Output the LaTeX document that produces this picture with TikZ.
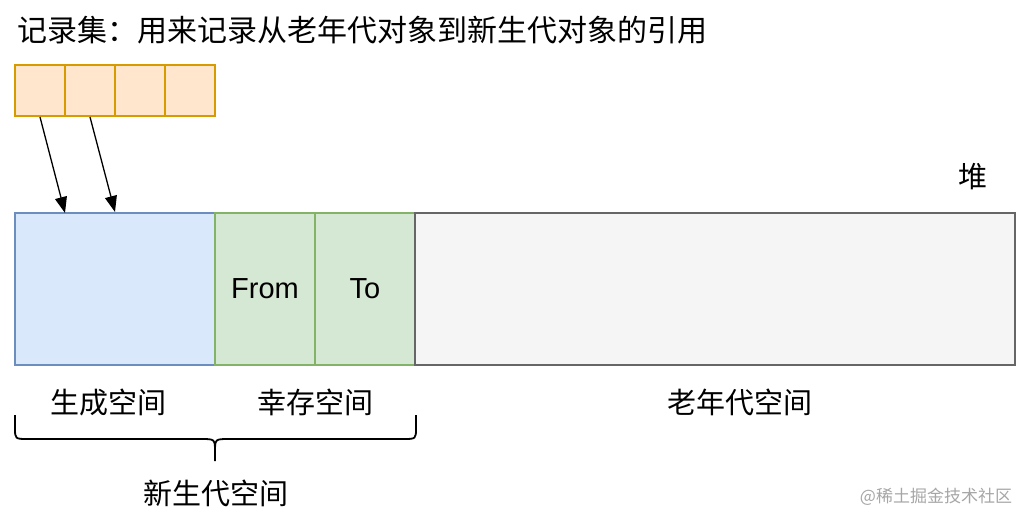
\documentclass[tikz,border=0pt]{standalone}
\usepackage{fontspec}
\setmainfont{Liberation Sans}
\newfontfamily\cjk{Noto Sans CJK SC}
\usetikzlibrary{positioning,arrows.meta}
\definecolor{cellfill}{HTML}{FFE6CC}
\definecolor{cellline}{HTML}{D79B00}
\definecolor{edenfill}{HTML}{DAE8FC}
\definecolor{edenline}{HTML}{6C8EBF}
\definecolor{survfill}{HTML}{D5E8D4}
\definecolor{survline}{HTML}{82B366}
\definecolor{oldfill}{HTML}{F5F5F5}
\definecolor{oldline}{HTML}{666666}

\begin{document}
\begin{tikzpicture}[x=1pt,y=-1pt,node distance=50pt,on grid,
    cell/.style={draw=cellline,fill=cellfill,line width=2pt,minimum width=50pt,minimum height=51pt,inner sep=0pt},
    region/.style={line width=2pt,minimum height=152pt,inner sep=0pt,font=\fontsize{29}{34}\selectfont},
    label/.style={font=\cjk\fontsize{29}{34}\selectfont,inner sep=0pt},
    ref/.style={-{Triangle[length=16pt,width=12pt]},line width=1.3pt}]
    \useasboundingbox (0,0) rectangle (1024,516);
    \node[label,anchor=west,font=\cjk\fontsize{30}{34}\selectfont] (title) at (17,30) {记录集：用来记录从老年代对象到新生代对象的引用};
    % remembered set
    \node[cell] (c_1) at (40,90.5) {};
    \node[cell] (c_2) [right=of c_1] {};
    \node[cell] (c_3) [right=of c_2] {};
    \node[cell] (c_4) [right=of c_3] {};
    % heap
    \node[label] (heap) at (973,177) {堆};
    \node[region,draw=edenline,fill=edenfill,minimum width=200pt] (eden) at (115,289) {};
    \node[region,draw=survline,fill=survfill,minimum width=100pt] (from) [right=150pt of eden] {From};
    \node[region,draw=survline,fill=survfill,minimum width=100pt] (to)   [right=100pt of from] {To};
    \node[region,draw=oldline,fill=oldfill,minimum width=600pt]  (old)  [right=350pt of to] {};
    \coordinate (hit_1) at (65,213);
    \path[ref]
    (c_1.south) edge (hit_1)
    (c_2.south) edge (eden.north);
    % labels
    \node[label] (eden_l) at (108,402) {生成空间};
    \node[label] (surv_l) at (315,402) {幸存空间};
    \node[label] (old_l)  at (740,402) {老年代空间};
    % brace
    \draw[line width=1.8pt] (15,415) -- (15,428) .. controls (15,439) .. (28,439) -- (201,439)
      .. controls (215,439) .. (215,452) -- (215,461);
    \draw[line width=1.8pt] (416,415) -- (416,428) .. controls (416,439) .. (403,439) -- (229,439)
      .. controls (215,439) .. (215,452);
    \node[label] (young_l) at (216,493) {新生代空间};
    \node[font=\cjk\fontsize{17}{20}\selectfont,text=black!35,inner sep=0pt] (mark) at (936,497) {@稀土掘金技术社区};
\end{tikzpicture}
\end{document}
